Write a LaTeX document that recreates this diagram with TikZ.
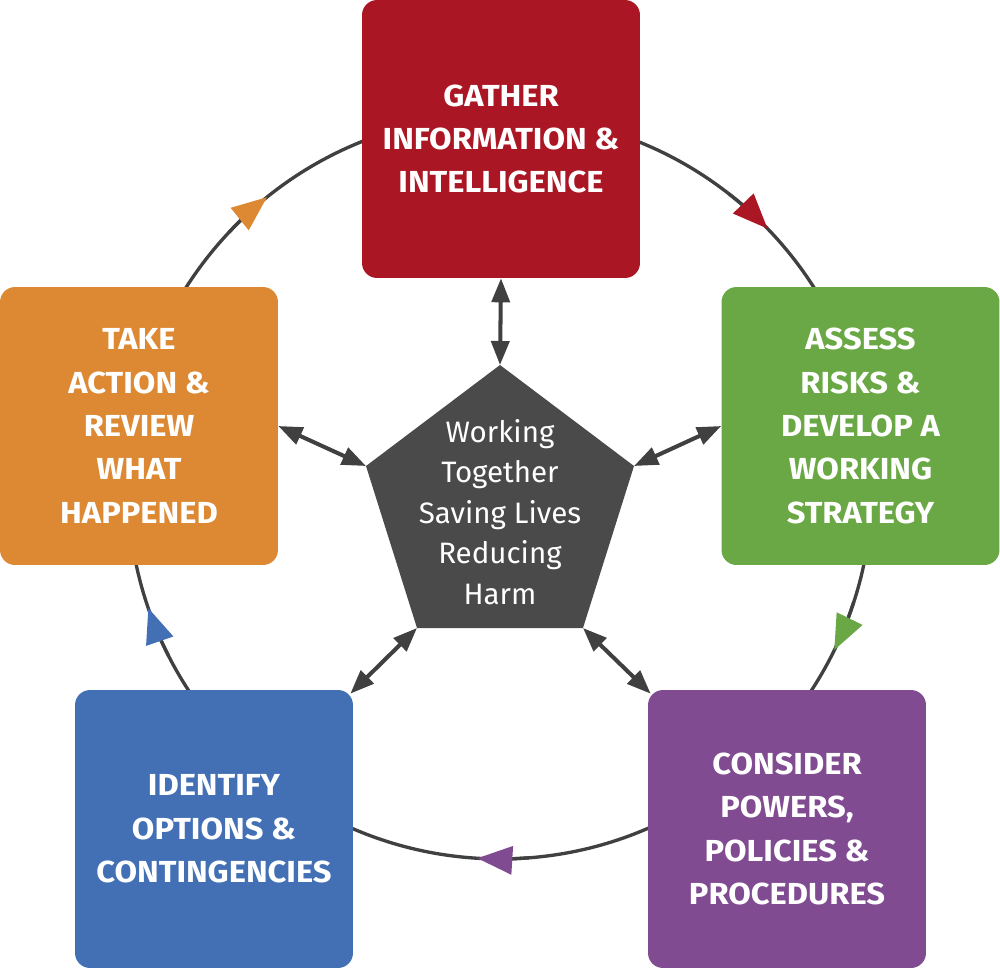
\documentclass[tikz,border=0pt]{standalone}
\usepackage{fontspec}
\setmainfont{Fira Sans}
\newfontfamily\boxfont{Fira Sans}[FakeStretch=1.075]
\newfontfamily\hubfont{Fira Sans}
\usetikzlibrary{arrows.meta,calc}
\definecolor{cred}{RGB}{171,22,36}
\definecolor{cgreen}{RGB}{106,168,69}
\definecolor{corange}{RGB}{221,137,52}
\definecolor{cblue}{RGB}{67,112,181}
\definecolor{cpurple}{RGB}{128,75,145}
\definecolor{chub}{RGB}{74,74,74}
\definecolor{cline}{RGB}{64,64,64}
\begin{document}
\begin{tikzpicture}[x=0.02cm,y=0.02cm,
  box/.style={rounded corners=0.3cm, minimum width=5.56cm, minimum height=5.56cm,
    inner sep=0pt, text=white, align=center,
    font=\boxfont\bfseries\fontsize{17.3}{24.7}\selectfont},
  ring/.style={draw=cline, line width=1.9pt},
  dbl/.style={draw=cline, line width=2.3pt,
    {Triangle[length=0.48cm,width=0.36cm]}-{Triangle[length=0.48cm,width=0.36cm]}},
  hubtext/.style={text=white, align=center, inner sep=0pt,
    font=\hubfont\fontsize{16.8}{23}\selectfont}
]
\useasboundingbox (0,0) rectangle (1000,-970);
\coordinate (C) at (500,-487);
% ring
\draw[ring] (C) circle[radius=7.44cm];
% ring arrowheads (clockwise)
\draw[ring,-{Triangle[length=0.7cm,width=0.56cm,color=cred]}]
  ($(C)+(52:7.44cm)$) arc[start angle=52,end angle=44,radius=7.44cm];
\draw[ring,-{Triangle[length=0.7cm,width=0.56cm,color=cgreen]}]
  ($(C)+(-18:7.44cm)$) arc[start angle=-18,end angle=-26,radius=7.44cm];
\draw[ring,-{Triangle[length=0.7cm,width=0.56cm,color=cpurple]}]
  ($(C)+(-85.5:7.44cm)$) arc[start angle=-85.5,end angle=-93.5,radius=7.44cm];
\draw[ring,-{Triangle[length=0.7cm,width=0.56cm,color=cblue]}]
  ($(C)+(207:7.44cm)$) arc[start angle=207,end angle=199,radius=7.44cm];
\draw[ring,-{Triangle[length=0.7cm,width=0.56cm,color=corange]}]
  ($(C)+(136.8:7.44cm)$) arc[start angle=136.8,end angle=128.8,radius=7.44cm];
% boxes
\node[box,fill=cred] (red) at (501,-139) {GATHER\\INFORMATION \&\\INTELLIGENCE};
\node[box,fill=cgreen] (green) at (860.5,-426) {ASSESS\\RISKS \&\\DEVELOP A\\WORKING\\STRATEGY};
\node[box,fill=corange] (orange) at (139,-426) {TAKE\\ACTION \&\\REVIEW\\WHAT\\HAPPENED};
\node[box,fill=cblue] (blue) at (214,-829) {IDENTIFY\\OPTIONS \&\\CONTINGENCIES};
\node[box,fill=cpurple] (purple) at (787,-829) {CONSIDER\\POWERS,\\POLICIES \&\\PROCEDURES};
% hub pentagon
\coordinate (p1) at (500,-365);
\coordinate (p2) at (634,-466);
\coordinate (p3) at (583,-628);
\coordinate (p4) at (417,-628);
\coordinate (p5) at (366,-466);
\fill[chub] (p1) -- (p2) -- (p3) -- (p4) -- (p5) -- cycle;
\node[hubtext] (hub) at (500,-512) {Working\\Together\\Saving Lives\\Reducing\\Harm};
% spokes
\draw[dbl] (p1) -- (red.south);
\draw[dbl] (p2) -- (green.west);
\draw[dbl] (p5) -- (orange.east);
\draw[dbl] (p3) -- ($(purple.north west)+(3,-4)$);
\draw[dbl] (p4) -- ($(blue.north east)+(-3,-4)$);
\end{tikzpicture}
\end{document}
